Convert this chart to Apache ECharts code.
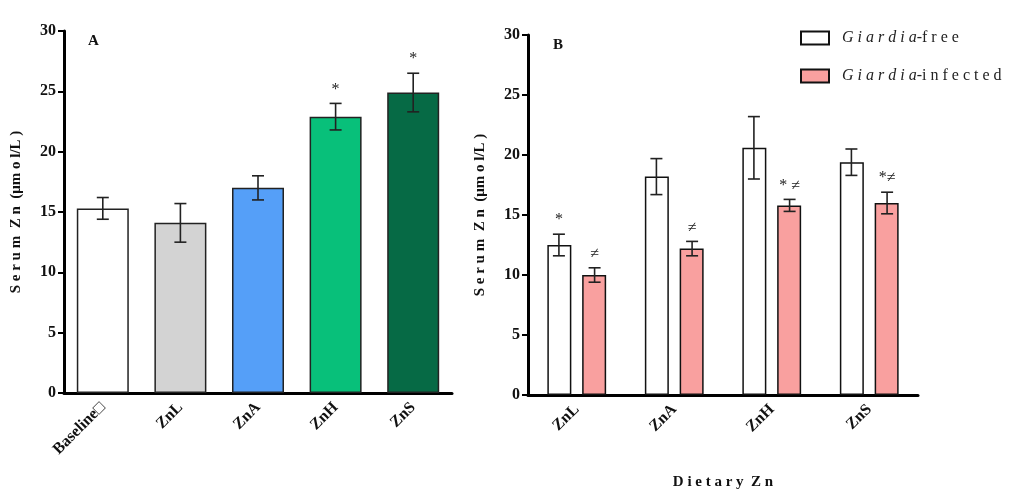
<!DOCTYPE html>
<html><head><meta charset="utf-8">
<script src="https://cdn.jsdelivr.net/npm/echarts@6/dist/echarts.min.js"></script>
<style>html,body{margin:0;background:#fff}#c{width:1024px;height:490px}</style>
</head><body><div id="c"></div>
<script>
(function () {
    "use strict";
    // panel A
    const catsA = ['Baseline\u25a1', 'ZnL', 'ZnA', 'ZnH', 'ZnS'];
    const meanA = [15.3, 14.1, 17.0, 22.9, 24.9];
    const errA = [0.9, 1.6, 1.0, 1.1, 1.6];
    const colorsA = ['#ffffff', '#d3d3d3', '#559ff8', '#08c07a', '#066a45'];
    const markA = ['', '', '', '*', '*'];
    // panel B
    const catsB = ['ZnL', 'ZnA', 'ZnH', 'ZnS'];
    const freeMean = [12.5, 18.2, 20.6, 19.4];
    const freeErr = [0.9, 1.5, 2.6, 1.1];
    const infMean = [10.0, 12.2, 15.8, 16.0];
    const infErr = [0.6, 0.6, 0.5, 0.9];
    const freeMark = ['*', '', '', ''];
    const infMark = ['\u2260', '\u2260', '* \u2260', '*\u2260'];

    const font = 'Liberation Serif';
    let myChart = echarts.init(document.getElementById('c'));

    function errSeries(xi, yi, means, errs, marks, barOffset) {
        return {
            type: 'custom', xAxisIndex: xi, yAxisIndex: yi, z: 10,
            data: means.map((m, i) => [i, m, errs[i], marks[i]]),
            renderItem: function (params, api) {
                let c = api.coord([api.value(0), api.value(1)]);
                let bw = api.size([1, 0])[0];
                let x = c[0] + bw * barOffset;
                let top = api.coord([api.value(0), api.value(1) + api.value(2)])[1];
                let bot = api.coord([api.value(0), api.value(1) - api.value(2)])[1];
                let w = 6;
                let st = {stroke: '#222', lineWidth: 1.6};
                let kids = [
                    {type: 'line', shape: {x1: x, y1: top, x2: x, y2: bot}, style: st},
                    {type: 'line', shape: {x1: x - w, y1: top, x2: x + w, y2: top}, style: st},
                    {type: 'line', shape: {x1: x - w, y1: bot, x2: x + w, y2: bot}, style: st}
                ];
                let mk = marks[params.dataIndex];
                if (mk) {
                    kids.push({type: 'text', style: {text: mk, x: x, y: top - 6, align: 'center',
                        verticalAlign: 'bottom', font: '16px ' + font, fill: '#222'}});
                }
                return {type: 'group', children: kids};
            }
        };
    }

    const axisLabel = {color: '#111', fontFamily: font, fontWeight: 'bold', fontSize: 16};
    function yAxis(gi) {
        return {
            gridIndex: gi, type: 'value', min: 0, max: 30, interval: 5,
            name: 'S e r u m  Z n  (\u03bcm o l/L )', nameLocation: 'middle', nameGap: 40, nameRotate: 90,
            nameTextStyle: {fontFamily: font, fontWeight: 'bold', fontSize: 15, color: '#111'},
            axisLine: {show: true, lineStyle: {color: '#000', width: 3}},
            axisTick: {show: true, length: 6, lineStyle: {color: '#000', width: 2}},
            splitLine: {show: false}, axisLabel: axisLabel
        };
    }
    function xAxis(gi, cats, extra) {
        return Object.assign({
            gridIndex: gi, type: 'category', data: cats,
            axisLine: {lineStyle: {color: '#000', width: 3}},
            axisTick: {alignWithLabel: true, length: 6, lineStyle: {color: '#000', width: 3}},
            axisLabel: Object.assign({rotate: 45, margin: 12}, axisLabel)
        }, extra || {});
    }

    let option = {
        animation: false,
        grid: [
            {left: 64, top: 31, width: 388, height: 362, outerBoundsMode: 'none'},
            {left: 528, top: 35, width: 390, height: 360, outerBoundsMode: 'none'}
        ],
        xAxis: [
            xAxis(0, catsA),
            xAxis(1, catsB, {name: 'D i e t a r y  Z n', nameLocation: 'middle', nameGap: 80,
                nameTextStyle: {fontFamily: font, fontWeight: 'bold', fontSize: 15, color: '#111'}})
        ],
        yAxis: [yAxis(0), yAxis(1)],
        legend: {
            left: 795, top: 25, orient: 'vertical', itemWidth: 28, itemHeight: 13, itemGap: 22,
            icon: 'rect',
            textStyle: {fontFamily: font, fontSize: 16, color: '#222', padding: [0, 0, 0, 8],
                rich: {i: {fontStyle: 'italic', fontFamily: font, fontSize: 16}}},
            formatter: n => n === 'free' ? '{i|G i a r d i a}-f r e e' : '{i|G i a r d i a}-i n f e c t e d',
            data: ['free', 'infected']
        },
        graphic: [
            {type: 'text', left: 88, top: 34, style: {text: 'A', font: 'bold 15px ' + font, fill: '#111'}},
            {type: 'text', left: 553, top: 38, style: {text: 'B', font: 'bold 15px ' + font, fill: '#111'}}
        ],
        series: [
            {
                type: 'bar', xAxisIndex: 0, yAxisIndex: 0, barWidth: '67%',
                data: meanA.map((v, i) => ({value: v, itemStyle: {color: colorsA[i]}})),
                itemStyle: {borderColor: '#222', borderWidth: 1.5}
            },
            errSeries(0, 0, meanA, errA, markA, 0),
            {
                name: 'free', type: 'bar', xAxisIndex: 1, yAxisIndex: 1, barWidth: 24, barGap: '45%',
                data: freeMean, itemStyle: {color: '#fff', borderColor: '#111', borderWidth: 1.5}
            },
            {
                name: 'infected', type: 'bar', xAxisIndex: 1, yAxisIndex: 1, barWidth: 24,
                data: infMean, itemStyle: {color: '#f9a09f', borderColor: '#111', borderWidth: 1.5}
            },
            errSeries(1, 1, freeMean, freeErr, freeMark, -0.183),
            errSeries(1, 1, infMean, infErr, infMark, 0.183)
        ]
    };
    myChart.setOption(option);
})();
</script>
</body></html>
